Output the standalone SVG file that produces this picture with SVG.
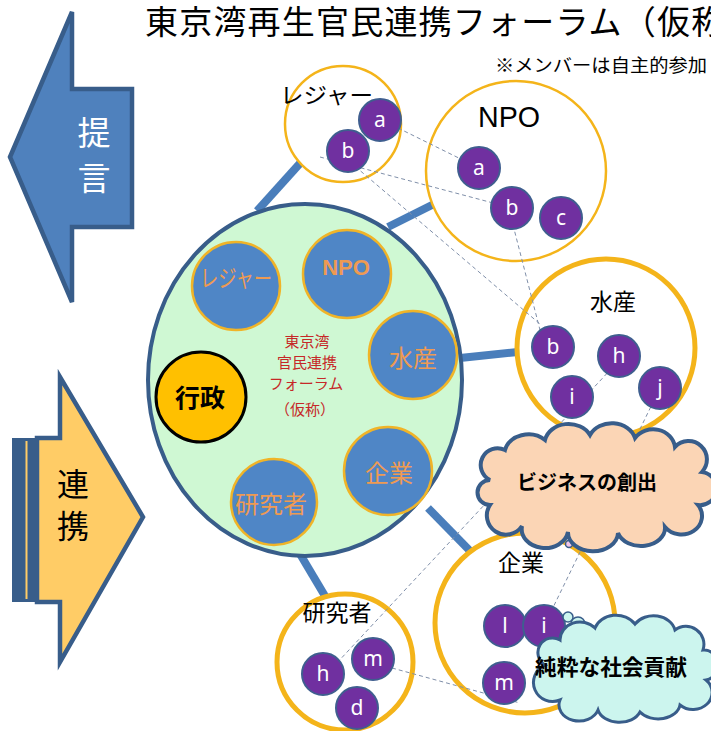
<svg xmlns="http://www.w3.org/2000/svg" width="711" height="731" viewBox="0 0 711 731">
<style>
.jp{font-family:"Noto Sans CJK JP","Noto Sans CJK SC",sans-serif;}
.ttl{font-size:33px;fill:#000;letter-spacing:1.2px;}
.lbl{font-size:23px;fill:#000;text-anchor:middle;}
.inn{font-size:24px;fill:#EE9A52;text-anchor:middle;}
.red{font-size:15px;fill:#C62828;text-anchor:middle;}
.thick{stroke:#4A7EBB;stroke-width:8;fill:none;}
.dash{stroke:#7F8FA9;stroke-width:1;stroke-dasharray:4 3;fill:none;}
.outer{fill:#fff;stroke:#F4B41A;}
.inner{fill:#4F86C6;stroke:#F0B428;stroke-width:2.5;}
.mem{fill:#7030A0;stroke:#3F5E8F;stroke-width:2;}
.ml{font-family:"Noto Sans","Open Sans",sans-serif;font-size:21px;fill:#fff;text-anchor:middle;}
.cloudtxt{font-weight:bold;fill:#000;}
</style>

<!-- title -->
<text class="jp ttl" x="145" y="34">東京湾再生官民連携フォーラム（仮称</text>
<text class="jp" x="495" y="72" font-size="18" textLength="212" lengthAdjust="spacingAndGlyphs">※メンバーは自主的参加</text>

<!-- left arrows -->
<g id="arrow-teigen">
<polygon points="10,157 72,12 72,89 132,89 132,227 72,227 72,302" fill="#4F81BD" stroke="#385D8A" stroke-width="4.5" stroke-linejoin="miter"/>
<text class="jp" x="94" y="145" font-size="33" fill="#fff" text-anchor="middle">提</text>
<text class="jp" x="94" y="190" font-size="33" fill="#fff" text-anchor="middle">言</text>
</g>
<g id="arrow-renkei">
<polygon points="37,438 60,438 60,377 143,517 60,662 60,602 37,602" fill="#FFCC66" stroke="#385D8A" stroke-width="4.5"/>
<rect x="12" y="438" width="26" height="164" fill="#385D8A"/>
<line x1="26.5" y1="441" x2="26.5" y2="599" stroke="#FFCC66" stroke-width="2"/>
<text class="jp" x="73" y="496" font-size="32" fill="#000" text-anchor="middle">連</text>
<text class="jp" x="73" y="538" font-size="32" fill="#000" text-anchor="middle">携</text>
</g>

<!-- thick connectors -->
<g id="links">
<line class="thick" x1="257" y1="211" x2="303" y2="160"/>
<line class="thick" x1="388" y1="227" x2="434" y2="204"/>
<line class="thick" x1="460" y1="358" x2="518" y2="352"/>
<line class="thick" x1="428" y1="508" x2="474" y2="555"/>
<line class="thick" x1="300" y1="554" x2="325" y2="596"/>
</g>

<!-- central forum -->
<g id="forum">
<ellipse cx="305" cy="380" rx="157" ry="176" fill="#CFF8D3" stroke="#385D8A" stroke-width="4"/>
<text class="jp red" x="307" y="347">東京湾</text>
<text class="jp red" x="307" y="368">官民連携</text>
<text class="jp red" x="306" y="389">フォーラム</text>
<text class="jp red" x="305" y="415">（仮称）</text>
</g>
<g id="in-leisure"><circle class="inner" cx="236" cy="286" r="44"/><text class="jp inn" x="236" y="287" font-size="18" textLength="72" lengthAdjust="spacingAndGlyphs">レジャー</text></g>
<g id="in-npo"><circle class="inner" cx="347" cy="274" r="44"/><text x="346" y="275" font-family="Liberation Sans,Arial,sans-serif" font-weight="bold" font-size="22" fill="#EE9A52" text-anchor="middle">NPO</text></g>
<g id="in-suisan"><circle class="inner" cx="413" cy="355" r="44"/><text class="jp inn" x="413" y="367" font-size="25">水産</text></g>
<g id="in-kigyo"><circle class="inner" cx="388" cy="471" r="44"/><text class="jp inn" x="389" y="482" font-size="26">企業</text></g>
<g id="in-kenkyu"><circle class="inner" cx="274" cy="502" r="43"/><text class="jp inn" x="271" y="513" font-size="25">研究者</text></g>
<g id="in-gyosei"><circle cx="201" cy="397" r="45" fill="#FFC000" stroke="#000" stroke-width="3"/><text class="jp" x="200" y="407" font-size="25" font-weight="bold" fill="#000" text-anchor="middle">行政</text></g>

<!-- outer groups -->
<g id="leisure"><circle class="outer" cx="343" cy="124" r="58" stroke-width="2.5"/></g>
<g id="npo"><circle class="outer" cx="516" cy="171" r="90" stroke-width="2.5"/></g>
<g id="suisan"><circle class="outer" cx="606" cy="348" r="89" stroke-width="5"/></g>
<g id="kigyo"><circle class="outer" cx="525" cy="623" r="90" stroke-width="5"/></g>
<g id="kenkyu"><circle class="outer" cx="345" cy="662" r="68" stroke-width="5"/></g>

<!-- dashed member links -->
<g id="member-links">
<line class="dash" x1="398" y1="128" x2="479" y2="168"/>
<line class="dash" x1="320" y1="157" x2="512" y2="208"/>
<line class="dash" x1="350" y1="162" x2="540" y2="324"/>
<line class="dash" x1="513" y1="225" x2="540" y2="330"/>
<line class="dash" x1="612" y1="368" x2="335" y2="665"/>
<line class="dash" x1="660" y1="388" x2="544" y2="626"/>
<line class="dash" x1="392" y1="668" x2="520" y2="703"/>
</g>

<!-- labels of outer groups -->
<text class="jp" x="280" y="103" font-size="22" textLength="93" lengthAdjust="spacingAndGlyphs">レジャー</text>
<text x="509" y="127" font-family="Liberation Sans,Arial,sans-serif" font-size="30" text-anchor="middle" textLength="62" lengthAdjust="spacingAndGlyphs">NPO</text>
<text class="jp lbl" x="613" y="310" font-size="24">水産</text>
<text class="jp lbl" x="521" y="571" font-size="24">企業</text>
<text class="jp lbl" x="337" y="621" font-size="25">研究者</text>

<!-- members -->
<g id="members">
<circle class="mem" cx="380" cy="120" r="21"/><text class="ml" x="380" y="127">a</text>
<circle class="mem" cx="348" cy="151" r="21"/><text class="ml" x="348" y="158">b</text>
<circle class="mem" cx="479" cy="168" r="21"/><text class="ml" x="479" y="175">a</text>
<circle class="mem" cx="512" cy="208" r="21"/><text class="ml" x="512" y="215">b</text>
<circle class="mem" cx="561" cy="218" r="21"/><text class="ml" x="561" y="225">c</text>
<circle class="mem" cx="553" cy="347" r="21"/><text class="ml" x="553" y="354">b</text>
<circle class="mem" cx="619" cy="356" r="21"/><text class="ml" x="619" y="363">h</text>
<circle class="mem" cx="572" cy="397" r="21"/><text class="ml" x="572" y="404">i</text>
<circle class="mem" cx="660" cy="388" r="21"/><text class="ml" x="660" y="395">j</text>
<circle class="mem" cx="505" cy="626" r="21"/><text class="ml" x="505" y="633">l</text>
<circle class="mem" cx="544" cy="626" r="21"/><text class="ml" x="544" y="633">i</text>
<circle class="mem" cx="504" cy="683" r="21"/><text class="ml" x="504" y="690">m</text>
<circle class="mem" cx="323" cy="674" r="21"/><text class="ml" x="323" y="681">h</text>
<circle class="mem" cx="373" cy="659" r="21"/><text class="ml" x="373" y="666">m</text>
<circle class="mem" cx="357" cy="708" r="21"/><text class="ml" x="357" y="715">d</text>
</g>

<!-- clouds -->
<g id="cloud-business">
<ellipse cx="571" cy="534" rx="6" ry="5" fill="#F0C6E8" stroke="#385D8A" stroke-width="1.5"/>
<circle cx="569" cy="544" r="3.5" fill="#F0C6E8" stroke="#385D8A" stroke-width="1.5"/>
<path d="M490,480 A16,16 0 0 1 505,450 A24,20 0 0 1 545,440 A24,20 0 0 1 590,435 A24,20 0 0 1 635,438 A22,20 0 0 1 675,447 A18,18 0 0 1 702,472 A15,15 0 0 1 698,505 A20,18 0 0 1 665,527 A24,18 0 0 1 618,533 A24,18 0 0 1 568,532 A22,18 0 0 1 522,526 A16,16 0 0 1 490,505 A12,12 0 0 1 490,480 Z" fill="#FBD5B5" stroke="#385D8A" stroke-width="4"/>
<text class="jp cloudtxt" x="587" y="490" font-size="20" text-anchor="middle">ビジネスの創出</text>
</g>
<g id="cloud-social">
<circle cx="568" cy="617" r="5" fill="#CCF5EE" stroke="#385D8A" stroke-width="1.5"/>
<circle cx="578" cy="624" r="7" fill="#CCF5EE" stroke="#385D8A" stroke-width="1.5"/>
<path d="M545,665 A14,14 0 0 1 560,640 A20,18 0 0 1 595,628 A22,18 0 0 1 635,624 A22,18 0 0 1 675,630 A18,18 0 0 1 703,650 A12,14 0 0 1 706,680 A18,16 0 0 1 680,705 A22,16 0 0 1 640,712 A22,16 0 0 1 598,710 A20,16 0 0 1 560,700 A14,14 0 0 1 545,665 Z" fill="#CCF5EE" stroke="#385D8A" stroke-width="3"/>
<text class="jp cloudtxt" x="535" y="675" font-size="22" textLength="152" lengthAdjust="spacingAndGlyphs">純粋な社会貢献</text>
</g>
</svg>
